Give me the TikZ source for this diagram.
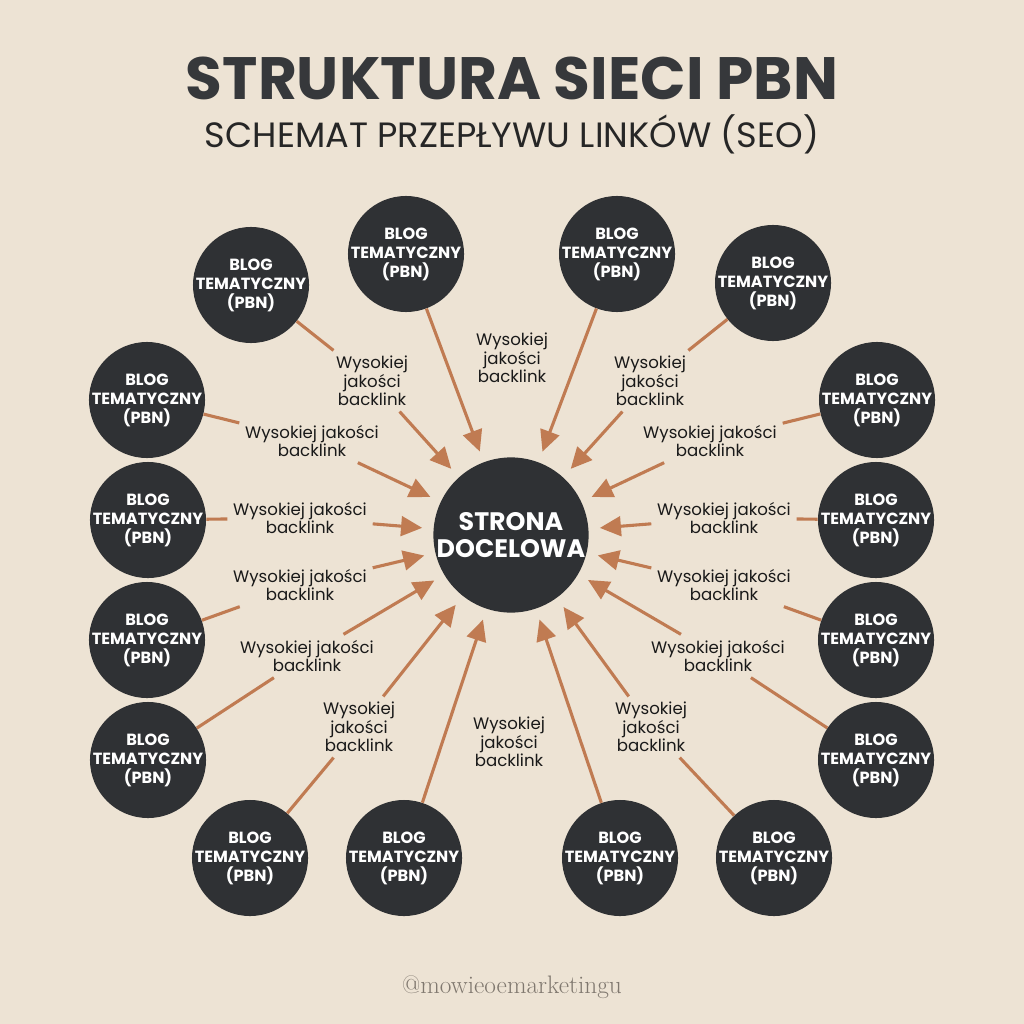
\documentclass[tikz,border=0pt]{standalone}
\usepackage{fontspec}
\newfontfamily\popfont{Poppins}
\usetikzlibrary{arrows.meta}

\definecolor{paper}{HTML}{EDE3D4}
\definecolor{coal}{HTML}{2F3134}
\definecolor{copper}{HTML}{C07B52}
\definecolor{ink}{HTML}{36383B}
\definecolor{handle}{HTML}{80786F}

\newcommand\Blog{BLOG\\TEMATYCZNY\\(PBN)}
\newcommand\WysA{Wysokiej\\jakości\\backlink}
\newcommand\WysB{Wysokiej jakości\\backlink}

\begin{document}
\begin{tikzpicture}[x=0.025cm,y=-0.025cm,
        blogtext/.style={text=white,align=center,inner sep=0pt,
            font=\popfont\bfseries\fontsize{11.5}{13.5}\selectfont},
        blog/.style={circle,fill=coal,minimum size=2.9cm,inner sep=0pt,
            label={[blogtext]center:\Blog}},
        hubnode/.style={circle,fill=coal,text=white,minimum size=3.75cm,inner sep=0pt,align=center,
            font=\popfont\bfseries\fontsize{18}{19.5}\selectfont},
        lbl/.style={align=center,inner sep=4pt,text=black!90,
            font=\popfont\fontsize{11.8}{13}\selectfont},
        link/.style={copper,line width=2.2pt},
        arr/.style={link,-{Triangle[length=15pt,width=14pt]},shorten >=8pt}]
        % background and margins
        \fill[paper] (0,0) rectangle (1024,1024);
        \node[anchor=base,text=ink,font=\popfont\bfseries\fontsize{42.5}{46}\selectfont] (title) at (512,100) {STRUKTURA SIECI PBN};
        \node[anchor=base,text=black!85,font=\popfont\fontsize{25}{28}\selectfont] (subtitle) at (512,148) {SCHEMAT PRZEPŁYWU LINKÓW (SEO)};
        \node[anchor=base,text=handle,font=\fontsize{18}{21}\selectfont] (footer) at (512,993) {@mowieoemarketingu};
        % target
        \node[hubnode] (hub) at (511,535) {STRONA\\DOCELOWA};
        % blogs, clockwise from top left
        \node[blog] (b1) at (251,285) {};
        \node[blog] (b2) at (406,254) {};
        \node[blog] (b3) at (617,254) {};
        \node[blog] (b4) at (773,283) {};
        \node[blog] (b5) at (147,400) {};
        \node[blog] (b6) at (148,520) {};
        \node[blog] (b7) at (147,640) {};
        \node[blog] (b8) at (148,760) {};
        \node[blog] (b9) at (250,858) {};
        \node[blog] (b10) at (404,858) {};
        \node[blog] (b11) at (620,858) {};
        \node[blog] (b12) at (774,858) {};
        \node[blog] (b13) at (877,400) {};
        \node[blog] (b14) at (876,520) {};
        \node[blog] (b15) at (876,640) {};
        \node[blog] (b16) at (876,760) {};
        % labels
        \node[lbl] (l1) at (372,381) {\WysA};
        \node[lbl] (l2) at (512,358) {\WysA};
        \node[lbl] (l3) at (650,381) {\WysA};
        \node[lbl] (l4) at (312,441) {\WysB};
        \node[lbl] (l5) at (300,518) {\WysB};
        \node[lbl] (l6) at (300,585) {\WysB};
        \node[lbl] (l7) at (307,656) {\WysB};
        \node[lbl] (l8) at (359,727) {\WysA};
        \node[lbl] (l9) at (509,742) {\WysA};
        \node[lbl] (l10) at (651,727) {\WysA};
        \node[lbl] (l11) at (710,441) {\WysB};
        \node[lbl] (l12) at (724,518) {\WysB};
        \node[lbl] (l13) at (724,585) {\WysB};
        \node[lbl] (l14) at (718,656) {\WysB};
        % links
        \draw[link] (b1) -- (l1);
        \draw[arr] (l1) -- (hub);
        \draw[arr] (b2) -- (hub);
        \draw[arr] (b3) -- (hub);
        \draw[link] (b4) -- (l3);
        \draw[arr] (l3) -- (hub);
        \draw[link] (b5) -- (l4);
        \draw[arr] (l4) -- (hub);
        \draw[link] (b6) -- (l5);
        \draw[arr] (l5) -- (hub);
        \draw[link] (b7) -- (l6);
        \draw[arr] (l6) -- (hub);
        \draw[link] (b8) -- (l7);
        \draw[arr] (l7) -- (hub);
        \draw[link] (b9) -- (l8);
        \draw[arr] (l8) -- (hub);
        \draw[arr] (b10) -- (hub);
        \draw[arr] (b11) -- (hub);
        \draw[link] (b12) -- (l10);
        \draw[arr] (l10) -- (hub);
        \draw[link] (b13) -- (l11);
        \draw[arr] (l11) -- (hub);
        \draw[link] (b14) -- (l12);
        \draw[arr] (l12) -- (hub);
        \draw[link] (b15) -- (l13);
        \draw[arr] (l13) -- (hub);
        \draw[link] (b16) -- (l14);
        \draw[arr] (l14) -- (hub);
\end{tikzpicture}
\end{document}
